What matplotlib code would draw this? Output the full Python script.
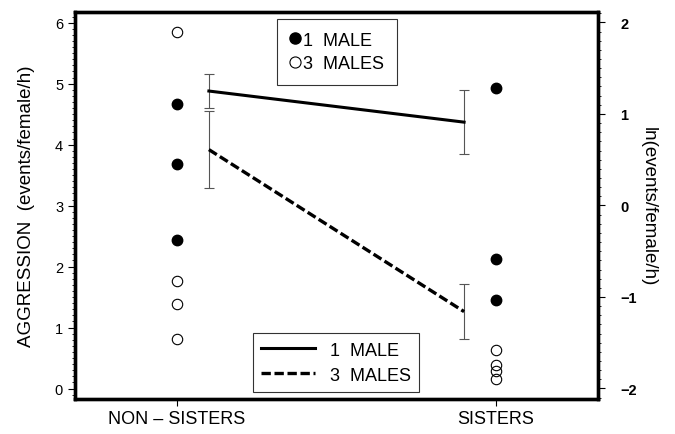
"""Aggression by group type: individual points (left axis) and ln-scale means (right axis)."""

import matplotlib

matplotlib.use("Agg")
import matplotlib.pyplot as plt
from matplotlib.lines import Line2D
from matplotlib.ticker import AutoMinorLocator, MultipleLocator

plt.rcParams["font.family"] = ["Liberation Sans", "DejaVu Sans"]

groups = ["NON \u2013 SISTERS", "SISTERS"]

# individual observations, events/female/h
one_male_non_sisters = [4.66, 3.69, 2.43]
one_male_sisters = [4.93, 2.13, 1.46]
three_males_non_sisters = [5.84, 1.76, 1.38, 0.81]
three_males_sisters = [0.63, 0.38, 0.29, 0.15]

# means and errors on ln scale
mean_one_male = [1.25, 0.91]
err_one_male = [0.19, 0.35]
mean_three_males = [0.61, -1.16]
err_three_males = [0.42, 0.30]

spine_w = 2.4


def main() -> None:
    fig, ax = plt.subplots(figsize=(6.75, 4.35), dpi=100)
    fig.subplots_adjust(left=0.111, right=0.886, top=0.970, bottom=0.080)
    ax2 = ax.twinx()

    # points sit on the category positions, means are pulled inwards
    pt_x = [0, 1]
    mean_x = [0.1, 0.9]

    ax.plot([pt_x[0]] * len(one_male_non_sisters), one_male_non_sisters, "o",
            color="black", ms=7.5, zorder=3)
    ax.plot([pt_x[1]] * len(one_male_sisters), one_male_sisters, "o",
            color="black", ms=7.5, zorder=3)
    ax.plot([pt_x[0]] * len(three_males_non_sisters), three_males_non_sisters, "o",
            mfc="white", mec="black", mew=0.8, ms=7.5, zorder=3)
    ax.plot([pt_x[1]] * len(three_males_sisters), three_males_sisters, "o",
            mfc="none", mec="black", mew=0.8, ms=7.5, zorder=3)

    ax2.errorbar(mean_x, mean_one_male, yerr=err_one_male, fmt="none",
                 ecolor="#555555", elinewidth=0.8, capsize=3.5, capthick=0.8)
    ax2.errorbar(mean_x, mean_three_males, yerr=err_three_males, fmt="none",
                 ecolor="#555555", elinewidth=0.8, capsize=3.5, capthick=0.8)
    ax2.plot(mean_x, mean_one_male, "-", color="black", lw=2.2)
    ax2.plot(mean_x, mean_three_males, "--", color="black", lw=2.4, dashes=(2.8, 1.1))

    ax.set_xlim(-0.32, 1.32)
    ax.set_ylim(-0.175, 6.175)
    ax2.set_ylim(-2.117, 2.113)

    ax.set_xticks(pt_x)
    ax.set_xticklabels(groups, fontsize=13)
    ax.tick_params(axis="x", length=5, width=0.8, pad=3)

    ax.yaxis.set_major_locator(MultipleLocator(1))
    ax.yaxis.set_minor_locator(AutoMinorLocator(10))
    ax.tick_params(axis="y", which="major", length=5, width=0.8, labelsize=10.5)
    ax.tick_params(axis="y", which="minor", length=2.5, width=0.6)
    ax.set_ylabel("AGGRESSION  (events/female/h)", fontsize=13.5, labelpad=14)

    ax2.yaxis.set_major_locator(MultipleLocator(1))
    ax2.yaxis.set_minor_locator(AutoMinorLocator(10))
    ax2.tick_params(axis="y", which="major", length=5, width=0.8, labelsize=10.5, pad=11)
    ax2.tick_params(axis="y", which="minor", length=2.5, width=0.6)
    for lab in ax2.get_yticklabels():
        lab.set_fontweight("bold")
    ax2.set_ylabel("ln(events/female/h)", fontsize=13.5, rotation=270, labelpad=14)

    for a in (ax, ax2):
        for sp in a.spines.values():
            sp.set_linewidth(spine_w)

    pt_handles = [
        Line2D([], [], ls="none", marker="o", color="black", ms=8),
        Line2D([], [], ls="none", marker="o", mfc="white", mec="black", mew=0.8, ms=8),
    ]
    leg1 = ax2.legend(pt_handles, ["1  MALE", "3  MALES"], loc="upper left",
                      bbox_to_anchor=(0.386, 0.824, 0.23, 0.158), mode="expand",
                      fontsize=13, frameon=True, fancybox=False, edgecolor="black",
                      handlelength=0.6, handletextpad=0.15, borderpad=0.7,
                      labelspacing=0.35, borderaxespad=0)
    leg1.get_frame().set_linewidth(0.8)
    ax2.add_artist(leg1)

    line_handles = [
        Line2D([], [], ls="-", color="black", lw=2.2),
        Line2D([], [], ls="--", color="black", lw=2.4, dashes=(2.8, 1.1)),
    ]
    leg2 = ax2.legend(line_handles, ["1  MALE", "3  MALES"], loc="lower left",
                      bbox_to_anchor=(0.34, 0.019, 0.318, 0.152), mode="expand",
                      fontsize=13, frameon=True, fancybox=False, edgecolor="black",
                      handlelength=3.0, handletextpad=0.8, borderpad=0.45,
                      labelspacing=0.45, borderaxespad=0)
    leg2.get_frame().set_linewidth(0.8)

    fig.savefig("out.png", dpi=100)
    plt.close(fig)


if __name__ == "__main__":
    main()
